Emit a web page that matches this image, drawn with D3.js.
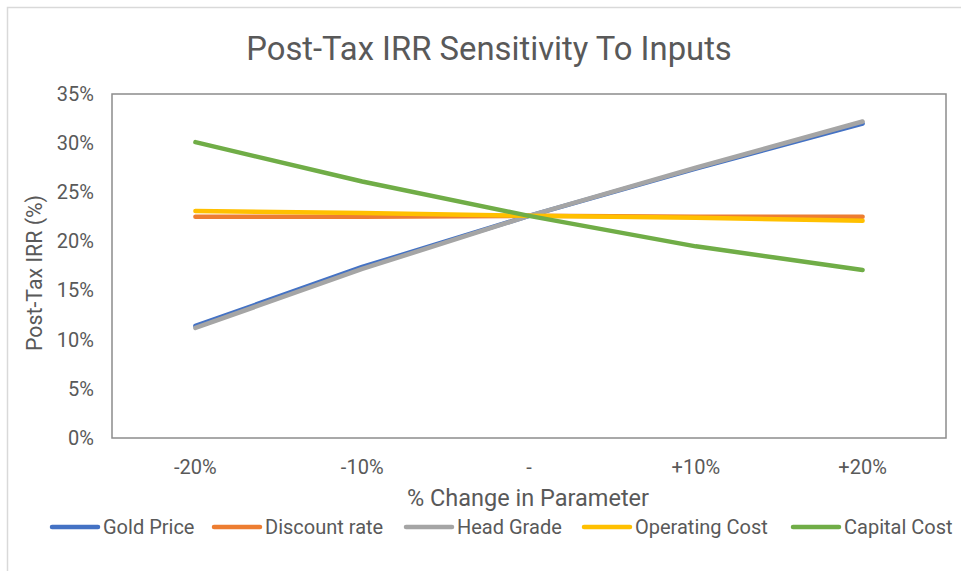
<!DOCTYPE html>
<html>
<head>
<meta charset="utf-8">
<script src="https://cdn.jsdelivr.net/npm/d3@7"></script>
<style>
  html, body { margin: 0; padding: 0; background: #fff; }
  svg { display: block; font-family: Roboto, "Noto Sans", sans-serif; }
</style>
</head>
<body>
<div id="chart"></div>
<script>
/* ── Data ─────────────────────────────────────────────────────────── */

const categories = ['-20%', '-10%', '-', '+10%', '+20%'];
const seriesNames = ['Gold Price', 'Discount rate', 'Head Grade', 'Operating Cost', 'Capital Cost'];
const seriesColors = ['#4472c4', '#ed7d31', '#a5a5a5', '#ffc000', '#70ad47'];

// Post-tax IRR (%) per category
const goldPrice = [11.4, 17.4, 22.6, 27.4, 32.0];
const discountRate = [22.5, 22.5, 22.6, 22.5, 22.5];
const headGrade = [11.2, 17.2, 22.6, 27.5, 32.2];
const operatingCost = [23.1, 22.9, 22.6, 22.4, 22.1];
const capitalCost = [30.1, 26.1, 22.6, 19.5, 17.1];

const yTicks = [0, 5, 10, 15, 20, 25, 30, 35];

const seriesValues = [goldPrice, discountRate, headGrade, operatingCost, capitalCost];

/* ── Layout ───────────────────────────────────────────────────────── */

const width = 961;
const height = 571;
const plot = { left: 112, top: 94, right: 946, bottom: 438 };
const textColor = '#595959';

const svg = d3.select('#chart')
  .append('svg')
  .attr('width', width)
  .attr('height', height);

// chart area border
svg.append('rect')
  .attr('x', 7.5)
  .attr('y', 7.5)
  .attr('width', width + 10)
  .attr('height', height + 10)
  .attr('fill', '#fff')
  .attr('stroke', '#d9d9d9')
  .attr('stroke-width', 1.5);

/* ── Scales ───────────────────────────────────────────────────────── */

const x = d3.scaleBand()
  .domain(categories)
  .range([plot.left, plot.right]);

const y = d3.scaleLinear()
  .domain([0, 35])
  .range([plot.bottom, plot.top]);

/* ── Title ────────────────────────────────────────────────────────── */

svg.append('text')
  .attr('x', 489)
  .attr('y', 60)
  .attr('text-anchor', 'middle')
  .attr('font-size', 32.8)
  .attr('fill', textColor)
  .text('Post-Tax IRR Sensitivity To Inputs');

/* ── Plot frame ───────────────────────────────────────────────────── */

svg.append('rect')
  .attr('x', plot.left)
  .attr('y', plot.top)
  .attr('width', plot.right - plot.left)
  .attr('height', plot.bottom - plot.top)
  .attr('fill', 'none')
  .attr('stroke', '#8c8c8c')
  .attr('stroke-width', 1.5);

/* ── Axes ─────────────────────────────────────────────────────────── */

const yAxis = svg.append('g')
  .attr('transform', `translate(${plot.left},0)`)
  .call(d3.axisLeft(y).tickValues(yTicks).tickSize(0).tickPadding(18).tickFormat(d => `${d}%`));
yAxis.select('.domain').remove();
yAxis.selectAll('text')
  .attr('font-size', 20)
  .attr('font-family', 'Roboto')
  .attr('fill', textColor);

const xAxis = svg.append('g')
  .attr('transform', `translate(0,${plot.bottom})`)
  .call(d3.axisBottom(x).tickSize(0).tickPadding(22));
xAxis.select('.domain').remove();
xAxis.selectAll('text')
  .attr('font-size', 20)
  .attr('font-family', 'Roboto')
  .attr('fill', textColor);

// axis titles
svg.append('text')
  .attr('x', 528)
  .attr('y', 506)
  .attr('text-anchor', 'middle')
  .attr('font-size', 23.5)
  .attr('fill', textColor)
  .text('% Change in Parameter');

svg.append('text')
  .attr('transform', 'translate(42,273) rotate(-90)')
  .attr('text-anchor', 'middle')
  .attr('font-size', 21.3)
  .attr('fill', textColor)
  .text('Post-Tax IRR (%)');

/* ── Lines ────────────────────────────────────────────────────────── */

const line = d3.line()
  .x((d, i) => x(categories[i]) + x.bandwidth() / 2)
  .y(d => y(d));

svg.append('g')
  .selectAll('path')
  .data(seriesValues)
  .join('path')
  .attr('d', d => line(d))
  .attr('fill', 'none')
  .attr('stroke', (d, i) => seriesColors[i])
  .attr('stroke-width', 4.5)
  .attr('stroke-linecap', 'round')
  .attr('stroke-linejoin', 'round');

/* ── Legend ───────────────────────────────────────────────────────── */

const legendX = [52, 214, 406, 584, 793];
const legendY = 527;

const legend = svg.append('g')
  .selectAll('g')
  .data(seriesNames)
  .join('g')
  .attr('transform', (d, i) => `translate(${legendX[i]},${legendY})`);

legend.append('line')
  .attr('x1', 0)
  .attr('x2', 46)
  .attr('stroke', (d, i) => seriesColors[i])
  .attr('stroke-width', 4.5)
  .attr('stroke-linecap', 'round');

legend.append('text')
  .attr('x', 51)
  .attr('y', 7)
  .attr('font-size', 20)
  .attr('fill', textColor)
  .text(d => d);
</script>
</body>
</html>
